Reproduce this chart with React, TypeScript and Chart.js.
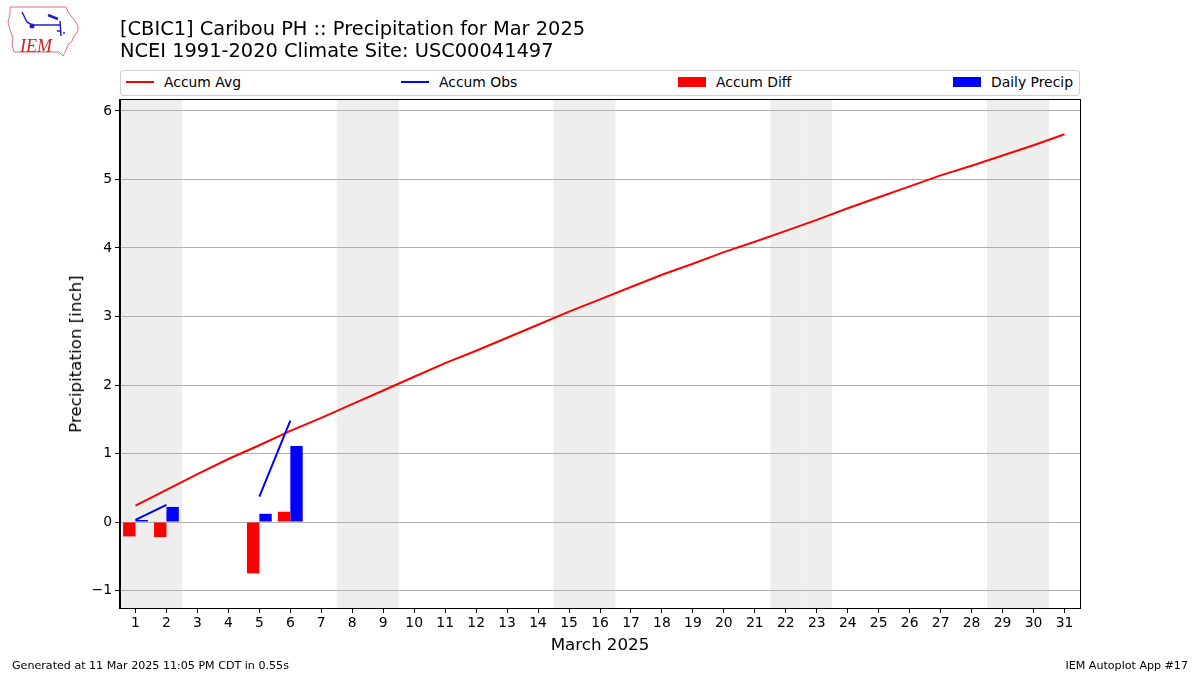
import React, { useEffect, useRef } from "react";
import { Chart, registerables } from "chart.js";

Chart.register(...registerables);

const dayLabels = [1,2,3,4,5,6,7,8,9,10,11,12,13,14,15,16,17,18,19,20,21,22,23,24,25,26,27,28,29,30,31];
const accumAvg = [0.24,0.47,0.70,0.92,1.12,1.33,1.52,1.72,1.92,2.12,2.32,2.50,2.69,2.88,3.07,3.25,3.43,3.61,3.77,3.94,4.09,4.25,4.41,4.58,4.74,4.90,5.06,5.20,5.35,5.50,5.66];
const accumObs: (number | null)[] = [0.03,0.25,null,null,0.37,1.48];
const accumDiff: (number | null)[] = [-0.21,-0.22,null,null,-0.75,0.15];
const dailyPrecip: (number | null)[] = [0.03,0.22,null,null,0.12,1.11];
const weekendDays = [1,2,8,9,15,16,22,23,29,30];
const yTicks = [-1,0,1,2,3,4,5,6];

const FONT = "'DejaVu Sans', sans-serif";

export default function App() {
  const ref = useRef<HTMLCanvasElement>(null);
  useEffect(() => {
    const canvas = ref.current!;
    const toXY = (arr: (number | null)[]) => dayLabels.map((d, i) => ({ x: d, y: i < arr.length ? arr[i] : null }));
    const shading = {
      id: "shading",
      beforeDraw(chart: any) {
        const { ctx, chartArea, scales } = chart;
        ctx.save();
        ctx.fillStyle = "#eeeeee";
        weekendDays.forEach((d) => {
          const x0 = scales.x.getPixelForValue(d - 0.5);
          const x1 = scales.x.getPixelForValue(d + 0.5);
          ctx.fillRect(x0, chartArea.top, x1 - x0, chartArea.bottom - chartArea.top);
        });
        ctx.restore();
      },
      afterDraw(chart: any) {
        const { ctx, chartArea } = chart;
        ctx.save();
        ctx.strokeStyle = "#000";
        ctx.lineWidth = 1;
        ctx.strokeRect(Math.round(chartArea.left) - 0.5, Math.round(chartArea.top) - 0.5,
          Math.round(chartArea.right - chartArea.left) + 1, Math.round(chartArea.bottom - chartArea.top) + 1);
        ctx.restore();
      },
    };
    const chart = new Chart(canvas, {
      type: "bar",
      data: {
        datasets: [
          { type: "line", label: "Accum Avg", data: toXY(accumAvg) as any, borderColor: "#ff0000", borderWidth: 2, pointRadius: 0, tension: 0, order: 1 },
          { type: "line", label: "Accum Obs", data: toXY(accumObs) as any, borderColor: "#0000ff", borderWidth: 2, pointRadius: 0, tension: 0, spanGaps: false, order: 0 },
          { type: "bar", label: "Accum Diff", data: toXY(accumDiff) as any, backgroundColor: "#ff0000", borderWidth: 0, categoryPercentage: 0.8, barPercentage: 1.0, order: 2 },
          { type: "bar", label: "Daily Precip", data: toXY(dailyPrecip) as any, backgroundColor: "#0000ff", borderWidth: 0, categoryPercentage: 0.8, barPercentage: 1.0, order: 3 },
        ] as any,
      },
      options: {
        animation: false,
        responsive: false,
        maintainAspectRatio: false,
        layout: { padding: { left: 0, right: 120, top: 100, bottom: 0 } },
        plugins: { legend: { display: false }, tooltip: { enabled: false } },
        scales: {
          x: {
            type: "linear",
            min: 0.5,
            max: 31.5,
            offset: false,
            afterFit: (s: any) => { s.height = 67; },
            afterBuildTicks: (s: any) => { s.ticks = dayLabels.map((d) => ({ value: d })); },
            grid: { offset: false, drawOnChartArea: false, tickColor: "#000", tickLength: 5, tickWidth: 1 },
            border: { color: "#000", width: 1 },
            ticks: { color: "#000", font: { family: FONT, size: 13.9 }, padding: 2, maxRotation: 0, autoSkip: false, callback: (v: any) => String(v) },
          },
          y: {
            type: "linear",
            min: -1.255,
            max: 6.16,
            afterFit: (s: any) => { s.width = 120; },
            afterBuildTicks: (s: any) => { s.ticks = yTicks.map((v) => ({ value: v })); },
            grid: { color: "#b0b0b0", lineWidth: 1, tickColor: "#000", tickLength: 5, tickWidth: 1 },
            border: { color: "#000", width: 1 },
            ticks: { color: "#000", font: { family: FONT, size: 13.9 }, padding: 3, callback: (v: any) => String(v).replace("-", "\u2212") },
          },
        },
      },
      plugins: [shading],
    } as any);
    return () => chart.destroy();
  }, []);

  const abs = (s: React.CSSProperties): React.CSSProperties => ({ position: "absolute", whiteSpace: "nowrap", fontFamily: FONT, color: "#000", ...s });

  const legendItems = [
    { label: "Accum Avg", color: "#ff0000", kind: "line", left: 126 },
    { label: "Accum Obs", color: "#0000ff", kind: "line", left: 401 },
    { label: "Accum Diff", color: "#ff0000", kind: "patch", left: 678 },
    { label: "Daily Precip", color: "#0000ff", kind: "patch", left: 953 },
  ];

  return (
    <div style={{ position: "absolute", left: 0, top: 0, width: 1200, height: 675, background: "#fff", overflow: "hidden" }}>
      <canvas ref={ref} width={1200} height={675} style={{ position: "absolute", left: 0, top: 0, width: 1200, height: 675 }} />
      <svg style={{ position: "absolute", left: 0, top: 0 }} width={100} height={62}>
        <path d="M10,7 L66,7 L68,12 L72,17 L75,21 L78,26 L78,31 L74,36 L72,41 L68,45 L66,50 L63,56 L59,52 L14,52 L12,45 L13,38 L10,30 L8,22 L10,14 Z" fill="none" stroke="#e07070" strokeWidth={1} />
        <path d="M22,12 L24,16 L27,22 L32,25 L60,25" fill="none" stroke="#2020d0" strokeWidth={1.5} />
        <circle cx={32} cy={26} r={2.5} fill="#2020d0" />
        <path d="M48,15 L53,17 L58,19" fill="none" stroke="#2020d0" strokeWidth={2.5} />
        <path d="M60,21 L61,36" fill="none" stroke="#2020d0" strokeWidth={1.5} />
        <path d="M57,31 L60,31 M63,33 L65,33" fill="none" stroke="#2020d0" strokeWidth={1.5} />
        <text x={20} y={52} fontFamily="'Liberation Serif', serif" fontStyle="italic" fontSize={18} fill="#d02020">IEM</text>
      </svg>
      <div style={abs({ left: 120, top: 18, fontSize: 19.4, lineHeight: "21.5px" })}>
        [CBIC1] Caribou PH :: Precipitation for Mar 2025<br />NCEI 1991-2020 Climate Site: USC00041497
      </div>
      <div style={{ position: "absolute", left: 120, top: 70, width: 960, height: 26, boxSizing: "border-box", border: "1px solid #d0d0d0", borderRadius: 3, background: "#fff" }} />
      {legendItems.map((it) => (
        <React.Fragment key={it.label}>
          {it.kind === "line" ? (
            <div style={{ position: "absolute", left: it.left, top: 81, width: 28, height: 2, background: it.color }} />
          ) : (
            <div style={{ position: "absolute", left: it.left, top: 77, width: 28, height: 10, background: it.color }} />
          )}
          <div style={abs({ left: it.left + 38, top: 74, fontSize: 13.9, lineHeight: "16px" })}>{it.label}</div>
        </React.Fragment>
      ))}
      <div style={abs({ left: 75, top: 354, fontSize: 16.7, lineHeight: "20px", transform: "translate(-50%, -50%) rotate(-90deg)" })}>Precipitation [inch]</div>
      <div style={abs({ left: 600, top: 644, fontSize: 16.7, lineHeight: "20px", transform: "translate(-50%, -50%)" })}>March 2025</div>
      <div style={abs({ left: 12, top: 659, fontSize: 11.1, lineHeight: "14px" })}>Generated at 11 Mar 2025 11:05 PM CDT in 0.55s</div>
      <div style={abs({ right: 12, top: 659, fontSize: 11.1, lineHeight: "14px" })}>IEM Autoplot App #17</div>
    </div>
  );
}
